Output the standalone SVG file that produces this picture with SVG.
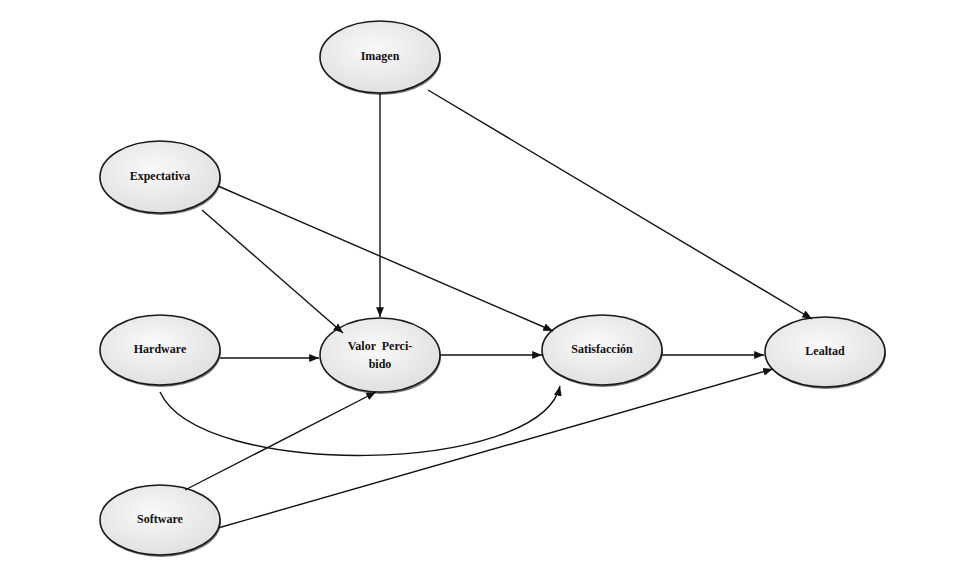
<svg xmlns="http://www.w3.org/2000/svg" width="976" height="585" viewBox="0 0 976 585">
<defs>
<radialGradient id="g" cx="0.45" cy="0.4" r="0.7"><stop offset="0" stop-color="#fafafa"/><stop offset="1" stop-color="#dcdcdc"/></radialGradient>
<marker id="a" viewBox="0 0 10 10" refX="10" refY="5" markerWidth="7" markerHeight="7" orient="auto"><path d="M0,1 L10,5 L0,9 z" fill="#111"/></marker>
<style>
.n ellipse.s{fill:#777;stroke:none}
.n ellipse.b{fill:url(#g);stroke:#1a1a1a;stroke-width:1.6}
.n text{font-family:"Liberation Serif",serif;font-weight:bold;font-size:12px;fill:#111;text-anchor:middle}
#edges path{fill:none;stroke:#111;stroke-width:1.4;marker-end:url(#a)}
</style>
</defs>
<rect width="976" height="585" fill="#fff"/>
<g id="imagen" class="n"><ellipse class="s" cx="381" cy="59" rx="60" ry="36"/><ellipse class="b" cx="380" cy="57" rx="60" ry="36"/><text x="380" y="60">Imagen</text></g>
<g id="expectativa" class="n"><ellipse class="s" cx="161" cy="179" rx="60" ry="36"/><ellipse class="b" cx="160" cy="177" rx="60" ry="36"/><text x="160" y="180">Expectativa</text></g>
<g id="hardware" class="n"><ellipse class="s" cx="161" cy="352" rx="60" ry="35"/><ellipse class="b" cx="160" cy="350" rx="60" ry="35"/><text x="160" y="353">Hardware</text></g>
<g id="valor" class="n"><ellipse class="s" cx="381" cy="357" rx="60" ry="37"/><ellipse class="b" cx="380" cy="355" rx="60" ry="37"/><text x="380" y="350" style="word-spacing:3px">Valor Perci-</text><text x="380" y="368">bido</text></g>
<g id="satisfaccion" class="n"><ellipse class="s" cx="603" cy="352" rx="60" ry="35"/><ellipse class="b" cx="602" cy="350" rx="60" ry="35"/><text x="602" y="353">Satisfacción</text></g>
<g id="lealtad" class="n"><ellipse class="s" cx="826" cy="354" rx="60" ry="35"/><ellipse class="b" cx="825" cy="352" rx="60" ry="35"/><text x="825" y="355">Lealtad</text></g>
<g id="software" class="n"><ellipse class="s" cx="161" cy="522" rx="60" ry="35"/><ellipse class="b" cx="160" cy="520" rx="60" ry="35"/><text x="160" y="523">Software</text></g>
<g id="edges">
<path d="M380,93 L380,317"/>
<path d="M428,90 L812,319"/>
<path d="M202,210 L343,333"/>
<path d="M218,186 L553,331"/>
<path d="M220,358 L319,358"/>
<path d="M440,355 L542,355"/>
<path d="M662,355 L764,355"/>
<path d="M160,392 C200,480 540,475 560,386"/>
<path d="M185,490 L376,392"/>
<path d="M218,528 L773,369"/>
</g>
</svg>
